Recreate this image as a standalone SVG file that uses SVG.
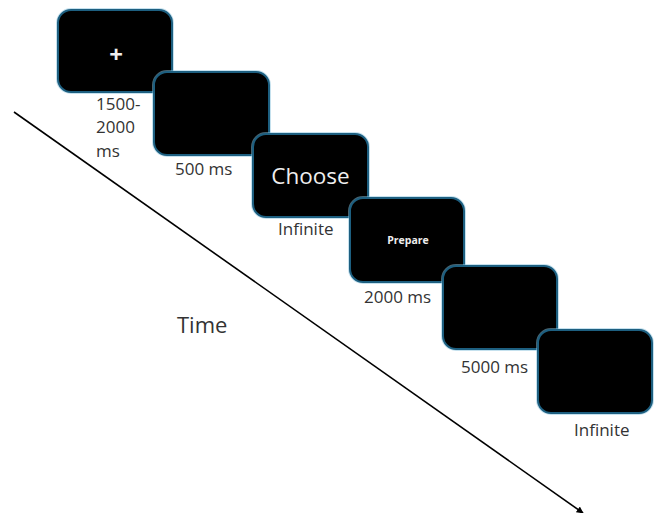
<svg xmlns="http://www.w3.org/2000/svg" width="659" height="513" viewBox="0 0 659 513">
  <style>
    .screen { fill: #000; stroke: #1d5f80; stroke-width: 2; }
    .halo { fill: none; stroke: #8cc4dd; stroke-width: 4; opacity: 0.5; }
    .lbl { font-family: "Open Sans", "Liberation Sans", sans-serif; font-size: 17px; fill: #333; }
    .big { font-size: 22px; }
    .scr { font-family: "Open Sans", "Liberation Sans", sans-serif; fill: #eee; text-anchor: middle; }
  </style>
  <defs>
    <marker id="head" viewBox="0 0 10 10" refX="9" refY="5" markerWidth="7" markerHeight="7" orient="auto" markerUnits="userSpaceOnUse">
      <path d="M0,0 L10,5 L0,10 Z" fill="#000"/>
    </marker>
  </defs>
  <rect width="659" height="513" fill="#fff"/>

  <g id="connectors">
    <line x1="14" y1="112" x2="583" y2="513" stroke="#000" stroke-width="1.6" marker-end="url(#head)"/>
  </g>

  <g id="screen1">
    <rect class="halo" x="58" y="10" width="114" height="82" rx="13"/>
    <rect class="screen" x="58" y="10" width="114" height="82" rx="13"/>
    <text class="scr" x="116" y="62.5" font-size="24" font-weight="bold">+</text>
    <text class="lbl" x="96" y="110">1500-</text>
    <text class="lbl" x="96" y="133">2000</text>
    <text class="lbl" x="96" y="157">ms</text>
  </g>

  <g id="screen2">
    <rect class="halo" x="154" y="72" width="115" height="83" rx="13"/>
    <rect class="screen" x="154" y="72" width="115" height="83" rx="13"/>
    <text class="lbl" x="175" y="175">500 ms</text>
  </g>

  <g id="screen3">
    <rect class="halo" x="253" y="134" width="115" height="83" rx="13"/>
    <rect class="screen" x="253" y="134" width="115" height="83" rx="13"/>
    <text class="scr" x="310.5" y="184" font-size="22.5">Choose</text>
    <text class="lbl" x="278" y="235">Infinite</text>
  </g>

  <g id="screen4">
    <rect class="halo" x="350" y="198" width="114" height="84" rx="13"/>
    <rect class="screen" x="350" y="198" width="114" height="84" rx="13"/>
    <text class="scr" x="408" y="244" font-size="10.5" font-weight="bold">Prepare</text>
    <text class="lbl" x="364" y="303">2000 ms</text>
  </g>

  <g id="screen5">
    <rect class="halo" x="443" y="266" width="114" height="83" rx="13"/>
    <rect class="screen" x="443" y="266" width="114" height="83" rx="13"/>
    <text class="lbl" x="461" y="373">5000 ms</text>
  </g>

  <g id="screen6">
    <rect class="halo" x="538" y="330" width="114" height="83" rx="13"/>
    <rect class="screen" x="538" y="330" width="114" height="83" rx="13"/>
    <text class="lbl" x="574" y="436">Infinite</text>
  </g>

  <g id="axis-label">
    <text class="lbl big" x="177" y="333">Time</text>
  </g>
</svg>
